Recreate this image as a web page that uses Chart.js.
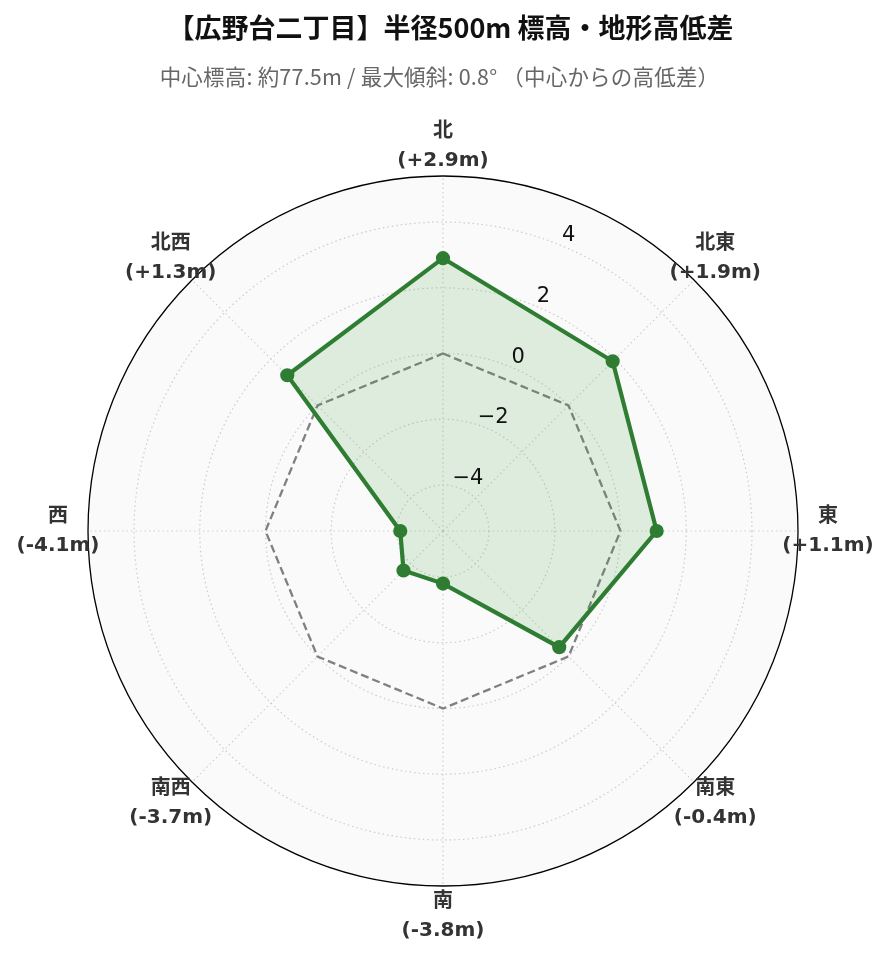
<!DOCTYPE html>
<html lang="ja">
<head>
<meta charset="utf-8">
<title>広野台二丁目 標高・地形高低差</title>
<script src="https://cdn.jsdelivr.net/npm/chart.js@4"></script>
<style>
  html, body { margin: 0; padding: 0; background: #fff; }
  #wrap { position: relative; width: 889px; height: 962px; }
  #chart { position: absolute; left: 0; top: 0; }
  .ttl {
    position: absolute; left: 0; width: 889px; text-align: center; white-space: nowrap;
    font-family: "Noto Sans CJK JP", "DejaVu Sans", sans-serif;
  }
  #title { top: 7px; left: 6px; font-size: 27px; line-height: 40px; font-weight: bold; color: #111; }
  #subtitle { top: 60px; left: -5px; font-size: 21.5px; line-height: 32px; color: #666; letter-spacing: 0.2px; }
</style>
</head>
<body>
<div id="wrap">
  <canvas id="chart" width="889" height="962"></canvas>
  <div id="title" class="ttl">【広野台二丁目】半径500m 標高・地形高低差</div>
  <div id="subtitle" class="ttl">中心標高: 約77.5m / 最大傾斜: 0.8° （中心からの高低差）</div>
</div>
<script>
// directions, clockwise from north
const DIRECTIONS = ["北", "北東", "東", "南東", "南", "南西", "西", "北西"];
// height difference from centre (m)
const DIFFS = [2.9, 1.9, 1.1, -0.4, -3.8, -3.7, -4.1, 1.3];
const BASELINE = [0, 0, 0, 0, 0, 0, 0, 0];
const TICK_VALUES = [-4, -2, 0, 2, 4];
const R_MIN = -5.4;
const R_MAX = 5.4;

const GREEN = "#2e7d32";
const FONT = '"DejaVu Sans", "Noto Sans CJK JP", sans-serif';

const fmtDiff = (v) => `(${v >= 0 ? "+" : "-"}${Math.abs(v).toFixed(1)}m)`;
const fmtTick = (v) => (v < 0 ? "\u2212" + Math.abs(v) : String(v));

// circle background, outer spine, tick + direction labels
const polarFrame = {
  id: "polarFrame",
  beforeDraw(chart) {
    const s = chart.scales.r, c = chart.ctx;
    c.save();
    c.fillStyle = "#fafafa";
    c.beginPath();
    c.arc(s.xCenter, s.yCenter, s.drawingArea, 0, Math.PI * 2);
    c.fill();
    c.restore();
  },
  afterDraw(chart) {
    const s = chart.scales.r, c = chart.ctx;
    c.save();
    c.strokeStyle = "#000";
    c.lineWidth = 1.3;
    c.beginPath();
    c.arc(s.xCenter, s.yCenter, s.drawingArea, 0, Math.PI * 2);
    c.stroke();

    // radial tick labels at 22.5deg
    const a = (22.5 * Math.PI) / 180;
    c.fillStyle = "#111";
    c.font = "21px " + FONT;
    c.textAlign = "center";
    c.textBaseline = "middle";
    TICK_VALUES.forEach((v) => {
      const r = s.getDistanceFromCenterForValue(v) + 14;
      c.fillText(fmtTick(v), s.xCenter + r * Math.sin(a) + 2, s.yCenter - r * Math.cos(a) + 3);
    });

    // direction labels
    c.fillStyle = "#333";
    c.font = "bold 20px " + FONT;
    DIRECTIONS.forEach((d, i) => {
      const p = s.getPointPosition(i, s.drawingArea + 30);
      c.fillText(d, p.x, p.y - 14.5);
      c.fillText(fmtDiff(DIFFS[i]), p.x, p.y + 14.5);
    });
    c.restore();
  },
};

new Chart(document.getElementById("chart"), {
  type: "radar",
  data: {
    labels: DIRECTIONS,
    datasets: [
      {
        label: "高低差",
        data: DIFFS,
        borderColor: GREEN,
        backgroundColor: "rgba(60,160,60,0.15)",
        borderWidth: 4.2,
        pointRadius: 5,
        pointBackgroundColor: GREEN,
        pointBorderColor: GREEN,
        fill: "start",
        order: 0,
      },
      {
        label: "基準",
        data: BASELINE,
        borderColor: "#808080",
        borderWidth: 2.3,
        borderDash: [8, 4],
        pointRadius: 0,
        fill: false,
        order: 1,
      },
    ],
  },
  options: {
    responsive: false,
    animation: false,
    layout: { padding: { left: 88, right: 91, top: 176, bottom: 76 } },
    scales: {
      r: {
        min: R_MIN,
        max: R_MAX,
        afterBuildTicks: (scale) => { scale.ticks = TICK_VALUES.map((v) => ({ value: v })); },
        ticks: { display: false },
        pointLabels: { display: false },
        grid: { circular: true, color: "#cccccc", lineWidth: 1.2 },
        border: { dash: [1.5, 3] },
        angleLines: { display: true, color: "#d0d0d0", lineWidth: 1.2, borderDash: [1.5, 3] },
      },
    },
    plugins: {
      legend: { display: false },
      tooltip: { enabled: false },
    },
  },
  plugins: [polarFrame],
});
</script>
</body>
</html>
